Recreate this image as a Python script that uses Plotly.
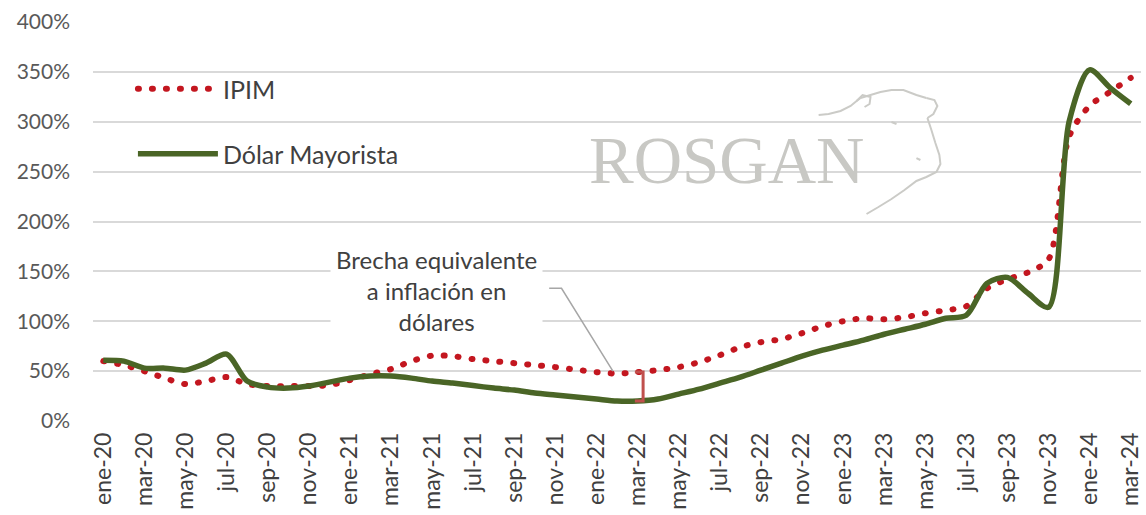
import plotly.graph_objects as go

# ---------------- data ----------------
meses = ["ene", "feb", "mar", "abr", "may", "jun", "jul", "ago", "sep", "oct", "nov", "dic"]
anios = ["20", "21", "22", "23", "24"]
categorias = [f"{m}-{a}" for a in anios for m in meses][:51]   # ene-20 ... mar-24
etiquetas_x = categorias[::2]

ipim = [60, 56, 50, 43, 37, 40, 44, 37, 35, 35, 35, 36,
        41, 47, 52, 60, 65.5, 65, 62, 60, 58, 56, 54, 51.5,
        49, 47.5, 49, 51, 54, 59, 66, 74, 79, 82, 88, 95,
        100, 103, 102, 104, 108, 111, 115, 133, 142, 149, 162, 285,
        316, 330, 344]

dolar = [61, 60, 53, 53, 51, 58, 67, 40, 34, 33, 35, 39,
         43, 45, 45, 43, 40, 38, 35.5, 33, 31, 28, 26, 24,
         22, 20, 20, 22, 27, 32, 38, 44, 51, 58, 65, 71,
         76, 81, 87, 92, 97, 103, 106, 138, 144, 128, 114, 300,
         352, 334, 318]

y_ticks = [0, 50, 100, 150, 200, 250, 300, 350, 400]
y_tick_text = [f"{v}%" for v in y_ticks]

nombre_ipim = "IPIM"
nombre_dolar = "Dólar Mayorista"
texto_brecha = "Brecha equivalente<br>a inflación en<br>dólares"
idx_brecha = categorias.index("mar-22")

# ---------------- style ----------------
W, H = 1146, 515
ML, MR, MT, MB = 93, 3, 22, 94
PW, PH = W - ML - MR, H - MT - MB
FONT = "Lato, 'Open Sans', Arial, sans-serif"
TXT = "#404040"
ROJO = "#C3161F"
VERDE = "#4A6526"
GRID = "#D9D9D9"
LOGO = "#CBCBC7"


def px(x):
    return (x - ML) / PW


def py(y):
    return (H - MB - y) / PH


def poly(points):
    return "M " + " L ".join(f"{px(a):.4f},{py(b):.4f}" for a, b in points)


fig = go.Figure()

fig.add_trace(go.Scatter(
    x=categorias, y=ipim, name=nombre_ipim, mode="lines",
    line=dict(color=ROJO, width=6, dash="1px,13px", shape="spline", smoothing=0.8),
    legend="legend", hoverinfo="skip"))

fig.add_trace(go.Scatter(
    x=categorias, y=dolar, name=nombre_dolar, mode="lines",
    line=dict(color=VERDE, width=5.5, shape="spline", smoothing=0.8),
    legend="legend2", hoverinfo="skip"))

shapes = []
# white panel behind logo (covers gridlines)
shapes.append(dict(type="rect", xref="paper", yref="paper", layer="between",
                   x0=px(588), x1=px(946), y0=py(205), y1=py(92),
                   fillcolor="white", line=dict(width=0)))
# cow head outline of the logo
hair = [(820, 115), (830, 114), (842, 111), (852, 106), (858, 101), (862, 98)]
head = [(862, 98), (872, 95), (882, 92), (893, 90), (905, 90), (918, 95), (928, 98)]
ear_r = [(928, 98), (936, 100), (939, 106), (935, 114), (929, 118)]
face = [(929, 118), (933, 130), (937, 143), (941, 155), (942, 164), (938, 172),
        (928, 177), (918, 181), (906, 190), (893, 199), (880, 207), (868, 214)]
ear_l = [(858, 101), (864, 95), (872, 97), (871, 104), (866, 107)]
for pts in (hair, head, ear_r, face, ear_l):
    shapes.append(dict(type="path", xref="paper", yref="paper", path=poly(pts),
                       line=dict(color=LOGO, width=2), layer="above"))
for pts in ([(893, 122), (898, 124)], [(918, 158), (922, 160)]):
    shapes.append(dict(type="path", xref="paper", yref="paper", path=poly(pts),
                       line=dict(color=LOGO, width=2), layer="above"))

# bracket showing the gap at mar-22
bx = idx_brecha + 0.27
bl = idx_brecha - 0.13
top, bot = ipim[idx_brecha], dolar[idx_brecha]
shapes.append(dict(type="path", xref="x", yref="y",
                   path=f"M {bl},{top} L {bx},{top} L {bx},{bot} L {bl},{bot}",
                   line=dict(color="#C0504D", width=3)))
# leader line of the annotation
shapes.append(dict(type="path", xref="x", yref="y",
                   path="M 21.7,133 L 22.3,133 L 24.8,50",
                   line=dict(color="#A6A6A6", width=1.5)))

annotations = [
    dict(x=16.2, y=131, xref="x", yref="y", text=texto_brecha, showarrow=False,
         font=dict(family=FONT, size=24, color=TXT), bgcolor="white",
         borderpad=5, align="center"),
    dict(x=px(728), y=py(160), xref="paper", yref="paper", text="ROSGAN",
         showarrow=False,
         font=dict(family="'Liberation Serif', 'DejaVu Serif', serif", size=67,
                   color="#C8C8C4")),
]

legend_style = dict(xanchor="left", yanchor="middle", bgcolor="rgba(0,0,0,0)",
                    font=dict(family=FONT, size=25, color=TXT), itemwidth=80)

fig.update_layout(
    width=W, height=H,
    margin=dict(l=ML, r=MR, t=MT, b=MB),
    paper_bgcolor="white", plot_bgcolor="white",
    font=dict(family=FONT, color=TXT),
    shapes=shapes, annotations=annotations,
    showlegend=True,
    legend=dict(x=px(133), y=py(89), **legend_style),
    legend2=dict(x=px(133), y=py(154), **legend_style),
    xaxis=dict(type="category", range=[-0.5, 50.5], tickmode="array",
               tickvals=etiquetas_x, ticktext=etiquetas_x, tickangle=-90,
               showgrid=False, showline=False, zeroline=False, ticks="",
               tickfont=dict(family=FONT, size=23, color=TXT),
               ticklabelstandoff=6),
    yaxis=dict(range=[0, 400], tickmode="array", tickvals=y_ticks, ticktext=y_tick_text,
               showgrid=True, gridcolor=GRID, gridwidth=2, zeroline=False,
               showline=False, ticks="",
               tickfont=dict(family=FONT, size=21, color="#595959"),
               ticklabelstandoff=22),
)

post = """
document.body.style.margin = '0';
document.body.style.padding = '0';
var gd = document.getElementById('{plot_id}');
function rc(){
  gd.querySelectorAll('path').forEach(function(p){
    var d = p.style.strokeDasharray;
    if (d && d !== 'none' && d !== '') { p.style.strokeLinecap = 'round'; }
  });
}
rc(); setTimeout(rc, 50); setTimeout(rc, 300);
if (gd.on) { gd.on('plotly_afterplot', rc); }
"""

fig.write_html("out.html", post_script=post, config={"displayModeBar": False})
